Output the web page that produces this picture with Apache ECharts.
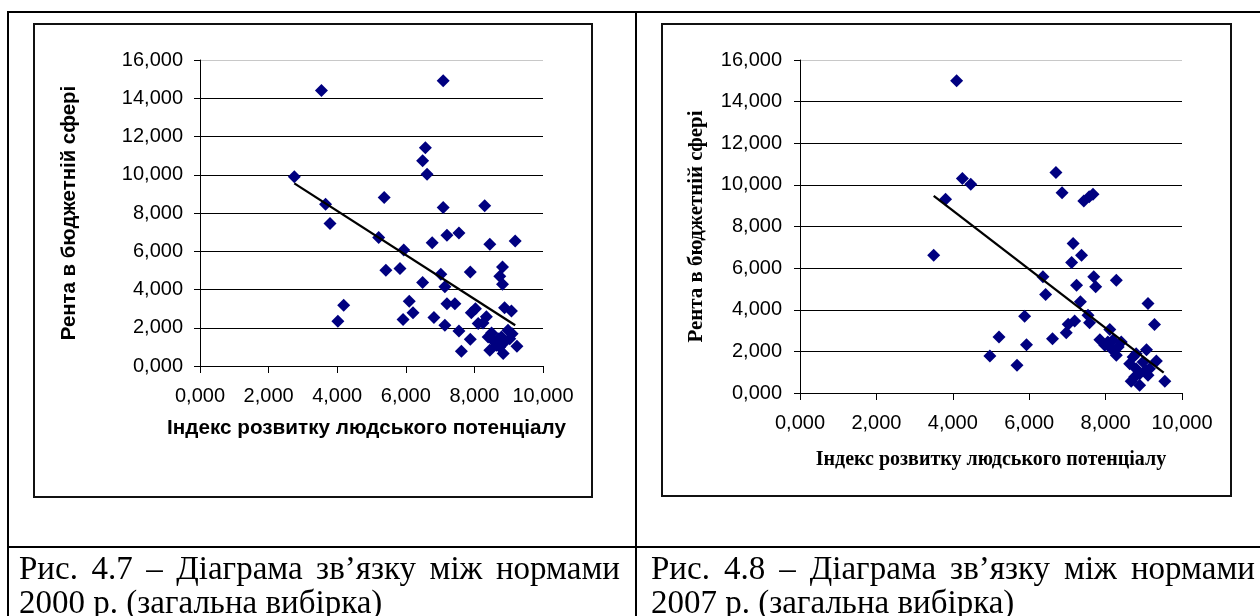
<!DOCTYPE html>
<html>
<head>
<meta charset="utf-8">
<script src="https://cdn.jsdelivr.net/npm/echarts@6/dist/echarts.min.js"></script>
<style>
  html, body { margin: 0; padding: 0; background: #fff; }
  body { width: 1260px; height: 616px; position: relative; overflow: hidden; }
  #chart { position: absolute; left: 0; top: 0; width: 1260px; height: 616px; }
  .cap { position: absolute; font-family: 'Liberation Serif', 'Times New Roman', serif; font-size: 33px; line-height: 34px; height: 34px; color: #000; white-space: nowrap; }
  .j { display: flex; justify-content: space-between; }
</style>
</head>
<body>
<div id="chart"></div>
<div class="cap j" style="left:19px; top:551px; width:601px;"><span>Рис.</span><span>4.7</span><span>–</span><span>Діаграма</span><span>зв’язку</span><span>між</span><span>нормами</span></div>
<div class="cap" style="left:19px; top:585px;">2000 р. (загальна вибірка)</div>
<div class="cap j" style="left:651px; top:551px; width:604px;"><span>Рис.</span><span>4.8</span><span>–</span><span>Діаграма</span><span>зв’язку</span><span>між</span><span>нормами</span></div>
<div class="cap" style="left:651px; top:585px;">2007 р. (загальна вибірка)</div>
<script>
// ---- data ----
const xTicks = [0, 2, 4, 6, 8, 10];
const yTicks = [0, 2, 4, 6, 8, 10, 12, 14, 16];
const xTitle = 'Індекс розвитку людського потенціалу';
const yTitle = 'Рента в бюджетній сфері';

// 2000 (left chart)
const x2000 = [3.54,7.09,2.75,3.66,3.79,4.02,4.19,5.37,5.21,5.42,5.83,5.94,5.92,6.10,6.21,6.49,6.49,6.57,6.62,6.77,6.82,7.02,7.14,7.09,7.20,7.55,7.20,7.43,7.14,7.55,7.62,7.88,7.91,8.03,7.88,8.30,8.45,8.11,8.25,8.35,8.40,8.50,8.45,8.59,8.69,8.74,8.82,8.74,8.82,8.88,9.08,9.19,8.84,8.98,9.10,9.24,8.88,9.03,8.64,8.79];
const y2000 = [14.40,14.92,9.89,8.46,7.45,2.34,3.18,8.81,6.72,5.01,5.10,6.06,2.43,3.39,2.78,4.36,10.73,11.41,10.02,6.44,2.53,4.80,4.14,8.29,6.84,6.96,3.26,3.26,2.13,1.83,0.77,4.92,2.78,3.00,1.40,8.38,6.37,2.22,2.25,2.57,1.52,1.73,0.82,1.26,1.43,0.99,5.18,4.69,4.28,3.05,2.88,6.53,0.65,1.87,1.69,1.03,1.26,1.43,1.08,1.52];
const trend2000X = [2.75, 9.19];
const trend2000Y = [9.55, 2.13];

// 2007 (right chart)
const x2007 = [4.10,3.81,4.25,4.47,3.50,6.70,6.86,7.43,7.57,7.67,7.15,7.37,7.11,6.36,6.43,7.24,7.69,7.74,8.28,7.34,7.54,7.58,7.19,7.02,6.97,6.61,5.88,5.93,5.68,5.21,4.97,9.11,9.28,8.11,7.85,7.98,8.15,8.28,8.41,8.19,8.06,8.33,9.07,9.33,9.55,8.67,8.89,8.63,8.72,8.80,8.98,9.11,8.89,8.76,9.05,9.15,8.80];
const y2007 = [15.00,9.31,10.31,10.03,6.62,10.60,9.62,9.22,9.43,9.55,7.18,6.62,6.27,5.58,4.73,5.18,5.58,5.10,5.42,4.38,3.74,3.37,3.46,3.30,2.89,2.61,3.69,2.32,1.33,2.69,1.78,4.30,3.29,3.05,2.56,2.29,2.13,1.81,2.45,2.53,2.45,2.21,2.08,1.54,0.56,0.56,0.37,1.41,1.73,1.17,1.49,0.85,0.93,0.77,1.09,1.17,1.89];
const trend2007X = [3.50, 9.52];
const trend2007Y = [9.47, 0.98];

// ---- chart ----
const fmt = v => v.toFixed(3).replace('.', ',');
const zip = (a, b) => a.map((v, i) => [v, b[i]]);
const sans = "'Liberation Sans', Arial, sans-serif";
const serif = "'Liberation Serif', 'Times New Roman', serif";
const gridColors = yTicks.map((t, i) => i === yTicks.length - 1 ? '#c8c8c8' : '#000');

function xAx(gi, nameFont, nameSize, gap, pad) {
  return {
    type: 'value', gridIndex: gi, min: xTicks[0], max: xTicks[xTicks.length - 1], interval: xTicks[1] - xTicks[0],
    axisLine: { show: true, onZero: false, lineStyle: { color: '#000', width: 1 } },
    axisTick: { show: true, inside: false, length: 7, lineStyle: { color: '#000', width: 1 } },
    axisLabel: { formatter: fmt, fontSize: 20, color: '#000', fontFamily: sans, margin: 20 },
    splitLine: { show: false },
    name: xTitle, nameLocation: 'middle', nameGap: gap,
    nameTextStyle: { fontSize: nameSize, fontWeight: 'bold', color: '#000', fontFamily: nameFont, padding: pad }
  };
}
function yAx(gi, nameFont, nameSize, gap, margin) {
  return {
    type: 'value', gridIndex: gi, min: yTicks[0], max: yTicks[yTicks.length - 1], interval: yTicks[1] - yTicks[0],
    axisLine: { show: true, lineStyle: { color: '#000', width: 1 } },
    axisTick: { show: true, inside: false, length: 6, lineStyle: { color: '#000', width: 1 } },
    axisLabel: { formatter: fmt, fontSize: 20, color: '#000', fontFamily: sans, margin: margin },
    splitLine: { show: true, lineStyle: { color: gridColors, width: 1 } },
    name: yTitle, nameLocation: 'middle', nameGap: gap,
    nameTextStyle: { fontSize: nameSize, fontWeight: 'bold', color: '#000', fontFamily: nameFont }
  };
}

const chart = echarts.init(document.getElementById('chart'), null, { renderer: 'canvas' });
const lineCol = '#000';
chart.setOption({
  animation: false,
  backgroundColor: 'transparent',
  grid: [
    { left: 200, top: 60, width: 343, height: 306 },
    { left: 800, top: 60, width: 382, height: 333 }
  ],
  xAxis: [xAx(0, sans, 20.7, 52, [0, 10, 0, 0]), xAx(1, serif, 20, 57, 0)],
  yAxis: [yAx(0, sans, 20.4, 121, 17), yAx(1, serif, 20.9, 93, 18)],
  series: [
    { type: 'scatter', xAxisIndex: 0, yAxisIndex: 0, data: zip(x2000, y2000), symbol: 'diamond', symbolSize: 13, itemStyle: { color: '#000080', opacity: 1 } },
    { type: 'line', xAxisIndex: 0, yAxisIndex: 0, data: zip(trend2000X, trend2000Y), symbol: 'none', lineStyle: { color: '#000', width: 2.3 }, z: 5 },
    { type: 'scatter', xAxisIndex: 1, yAxisIndex: 1, data: zip(x2007, y2007), symbol: 'diamond', symbolSize: 13, itemStyle: { color: '#000080', opacity: 1 } },
    { type: 'line', xAxisIndex: 1, yAxisIndex: 1, data: zip(trend2007X, trend2007Y), symbol: 'none', lineStyle: { color: '#000', width: 2.3 }, z: 5 }
  ],
  graphic: [
    { type: 'rect', shape: { x: 34, y: 24, width: 558, height: 473 }, style: { fill: 'none', stroke: '#111', lineWidth: 2 }, silent: true },
    { type: 'rect', shape: { x: 662, y: 24, width: 569, height: 472 }, style: { fill: 'none', stroke: '#111', lineWidth: 2 }, silent: true },
    { type: 'line', shape: { x1: 7, y1: 12, x2: 1260, y2: 12 }, style: { stroke: lineCol, lineWidth: 2 }, silent: true },
    { type: 'line', shape: { x1: 8, y1: 12, x2: 8, y2: 616 }, style: { stroke: lineCol, lineWidth: 2 }, silent: true },
    { type: 'line', shape: { x1: 636, y1: 12, x2: 636, y2: 616 }, style: { stroke: lineCol, lineWidth: 2 }, silent: true },
    { type: 'line', shape: { x1: 7, y1: 547, x2: 1260, y2: 547 }, style: { stroke: lineCol, lineWidth: 2 }, silent: true }
  ]
});
</script>
</body>
</html>
